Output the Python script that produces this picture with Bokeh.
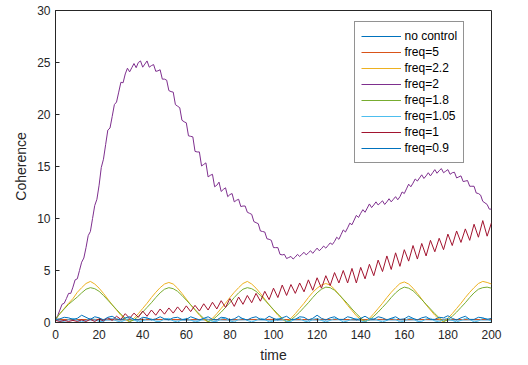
import numpy as np
from bokeh.plotting import figure
from bokeh.models import Range1d, FixedTicker
from bokeh.embed import file_html
from bokeh.resources import INLINE

# ---------------- data ----------------
T1 = list(range(0, 201, 1))
T2 = list(range(0, 201, 2))
T10 = list(range(0, 201, 10))

x_ticks = [0, 20, 40, 60, 80, 100, 120, 140, 160, 180, 200]
y_ticks = [0, 5, 10, 15, 20, 25, 30]

labels = ["no control", "freq=5", "freq=2.2", "freq=2", "freq=1.8",
          "freq=1.05", "freq=1", "freq=0.9"]
colors = ["#0072BD", "#D95319", "#EDB120", "#7E2F8E", "#77AC30",
          "#4DBEEE", "#A2142F", "#0072BD"]

# no control (every 10)
no_control = [0.25, 0.27, 0.24, 0.26, 0.25, 0.27, 0.24, 0.26, 0.25, 0.27, 0.24,
              0.26, 0.25, 0.27, 0.24, 0.26, 0.25, 0.27, 0.24, 0.26, 0.25]

# freq=5 (every 10)
freq_5 = [0.3, 0.28, 0.3, 0.27, 0.3, 0.29, 0.28, 0.3, 0.27, 0.29, 0.3,
          0.28, 0.3, 0.29, 0.27, 0.3, 0.28, 0.29, 0.3, 0.28, 0.3]

# freq=2.2 (every 2)
freq_2_2 = [0.3, 0.85, 1.35, 1.85, 2.3, 2.9, 3.35, 3.75, 3.95, 3.7,
            3.3, 2.8, 2.25, 1.7, 1.2, 0.7, 0.3, 0.05, 0.4, 0.85,
            1.35, 1.85, 2.4, 2.9, 3.35, 3.7, 3.85, 3.7, 3.3, 2.8,
            2.25, 1.7, 1.2, 0.7, 0.3, 0.05, 0.4, 0.85, 1.35, 1.85,
            2.4, 2.9, 3.35, 3.75, 3.95, 3.7, 3.3, 2.8, 2.25, 1.7,
            1.2, 0.7, 0.3, 0.05, 0.4, 0.85, 1.35, 1.85, 2.4, 2.9,
            3.3, 3.6, 3.75, 3.6, 3.2, 2.7, 2.2, 1.65, 1.15, 0.65,
            0.3, 0.05, 0.4, 0.85, 1.35, 1.85, 2.4, 2.9, 3.35, 3.75,
            3.9, 3.7, 3.3, 2.8, 2.25, 1.7, 1.2, 0.7, 0.3, 0.05,
            0.4, 0.85, 1.35, 1.85, 2.4, 2.9, 3.35, 3.75, 3.95, 3.85,
            3.7]

# freq=2 (every 1)
freq_2 = [0.3, 0.65, 1.2, 1.75, 1.85, 2.3, 2.8, 2.8, 3.4, 4.1,
          4.2, 5.0, 5.8, 6.2, 7.2, 8.35, 8.75, 10.0, 11.25, 11.85,
          13.2, 14.9, 15.7, 17.1, 18.5, 18.7, 19.8, 20.95, 21.2, 22.15,
          23.1, 23.05, 23.9, 24.45, 24.1, 24.5, 24.9, 24.5, 25.0, 25.15,
          24.55, 24.85, 25.15, 24.55, 24.7, 24.8, 24.15, 24.2, 24.3, 23.4,
          23.4, 23.3, 22.3, 22.2, 22.15, 20.95, 20.8, 20.65, 19.45, 19.3,
          19.2, 17.95, 17.9, 17.85, 16.45, 16.4, 16.4, 15.05, 15.2, 15.35,
          14.0, 14.15, 14.25, 13.05, 13.2, 13.5, 12.6, 12.8, 12.95, 12.1,
          12.3, 12.4, 11.6, 11.75, 11.85, 11.15, 11.2, 11.2, 10.6, 10.5,
          10.4, 9.7, 9.6, 9.5, 8.8, 8.75, 8.7, 8.05, 8.0, 7.9,
          7.2, 7.2, 7.2, 6.55, 6.5, 6.55, 6.15, 6.25, 6.35, 6.1,
          6.3, 6.55, 6.35, 6.55, 6.75, 6.5, 6.7, 6.9, 6.65, 6.9,
          7.15, 6.9, 7.1, 7.35, 7.15, 7.4, 7.65, 7.5, 7.8, 8.2,
          8.0, 8.45, 8.9, 8.7, 9.1, 9.55, 9.4, 9.85, 10.3, 10.1,
          10.5, 10.85, 10.6, 11.0, 11.4, 11.05, 11.3, 11.6, 11.3, 11.5,
          11.7, 11.35, 11.6, 11.9, 11.6, 11.85, 12.1, 11.8, 12.1, 12.55,
          12.4, 12.85, 13.3, 13.05, 13.4, 13.8, 13.6, 13.9, 14.2, 13.85,
          14.1, 14.4, 14.1, 14.4, 14.7, 14.35, 14.6, 14.8, 14.4, 14.55,
          14.7, 14.25, 14.4, 14.45, 13.9, 14.0, 14.1, 13.55, 13.6, 13.65,
          13.1, 13.1, 13.1, 12.45, 12.4, 12.25, 11.65, 11.5, 11.35, 10.9,
          10.9]

# freq=1.8 (every 2)
freq_1_8 = [0.3, 0.85, 1.3, 1.75, 2.1, 2.45, 2.85, 3.2, 3.35, 3.25,
            3.0, 2.6, 2.15, 1.7, 1.25, 0.8, 0.4, 0.08, 0.25, 0.6,
            1.0, 1.45, 1.9, 2.4, 2.85, 3.2, 3.35, 3.25, 3.0, 2.6,
            2.15, 1.7, 1.25, 0.8, 0.4, 0.08, 0.25, 0.6, 1.0, 1.45,
            1.9, 2.4, 2.85, 3.2, 3.35, 3.25, 3.0, 2.6, 2.15, 1.7,
            1.25, 0.8, 0.4, 0.08, 0.25, 0.6, 1.0, 1.45, 1.9, 2.4,
            2.85, 3.2, 3.4, 3.35, 3.1, 2.7, 2.25, 1.8, 1.3, 0.85,
            0.45, 0.1, 0.25, 0.6, 1.0, 1.45, 1.9, 2.4, 2.85, 3.2,
            3.4, 3.3, 3.05, 2.65, 2.2, 1.75, 1.3, 0.85, 0.45, 0.1,
            0.25, 0.6, 1.0, 1.45, 1.9, 2.4, 2.85, 3.2, 3.35, 3.4,
            3.3]

# freq=1.05 (every 2)
freq_1_05 = [0.3, 0.15, 0.1, 0.3, 0.4, 0.2, 0.05, 0.2, 0.4, 0.3,
             0.1, 0.1, 0.35, 0.4, 0.15, 0.05, 0.25, 0.4, 0.25, 0.05,
             0.15, 0.4, 0.35, 0.1, 0.1, 0.35, 0.4, 0.15, 0.05, 0.25,
             0.4, 0.25, 0.05, 0.15, 0.4, 0.3, 0.1, 0.1, 0.35, 0.4,
             0.15, 0.05, 0.3, 0.4, 0.2, 0.05, 0.2, 0.4, 0.3, 0.05,
             0.15, 0.4, 0.35, 0.1, 0.1, 0.35, 0.4, 0.15, 0.05, 0.3,
             0.4, 0.2, 0.05, 0.2, 0.4, 0.3, 0.05, 0.15, 0.35, 0.4,
             0.15, 0.05, 0.3, 0.4, 0.2, 0.05, 0.2, 0.4, 0.3, 0.05,
             0.15, 0.4, 0.35, 0.1, 0.1, 0.35, 0.4, 0.15, 0.05, 0.3,
             0.4, 0.2, 0.05, 0.2, 0.4, 0.3, 0.05, 0.15, 0.4, 0.35,
             0.1]

# freq=1 (every 2)
freq_1 = [0.2, 0.1, 0.2, 0.1, 0.2, 0.1, 0.25, 0.1, 0.3, 0.1,
          0.35, 0.15, 0.45, 0.2, 0.6, 0.3, 0.85, 0.4, 0.9, 0.5,
          1.1, 0.6, 1.2, 0.7, 1.3, 0.8, 1.4, 0.9, 1.5, 1.0,
          1.6, 1.05, 1.65, 1.1, 1.8, 1.2, 1.95, 1.3, 2.1, 1.45,
          2.3, 1.55, 2.45, 1.75, 2.6, 1.9, 2.8, 2.05, 3.0, 2.2,
          3.3, 2.4, 3.6, 2.6, 3.65, 2.8, 3.8, 2.95, 4.1, 3.1,
          4.3, 3.3, 4.5, 3.55, 4.8, 3.8, 5.0, 3.8, 5.2, 3.8,
          5.3, 4.2, 5.6, 4.5, 6.0, 4.9, 6.4, 5.1, 6.7, 5.4,
          7.0, 5.9, 7.4, 6.1, 7.6, 6.4, 7.9, 6.8, 8.1, 7.0,
          8.5, 7.4, 8.8, 7.7, 9.0, 7.9, 9.45, 8.2, 9.8, 8.3,
          9.6]

# freq=0.9 (every 2)
freq_0_9 = [0.3, 0.35, 0.5, 0.45, 0.3, 0.4, 0.7, 0.5, 0.3, 0.55,
            0.45, 0.25, 0.5, 0.6, 0.35, 0.25, 0.45, 0.55, 0.3, 0.25,
            0.5, 0.45, 0.25, 0.35, 0.55, 0.35, 0.25, 0.45, 0.5, 0.3,
            0.3, 0.55, 0.4, 0.25, 0.4, 0.55, 0.3, 0.25, 0.5, 0.45,
            0.25, 0.35, 0.6, 0.35, 0.25, 0.45, 0.55, 0.3, 0.3, 0.6,
            0.4, 0.25, 0.45, 0.6, 0.3, 0.3, 0.55, 0.5, 0.25, 0.4,
            0.7, 0.4, 0.25, 0.45, 0.55, 0.3, 0.3, 0.55, 0.45, 0.25,
            0.4, 0.6, 0.35, 0.3, 0.55, 0.45, 0.25, 0.4, 0.55, 0.3,
            0.35, 0.6, 0.4, 0.25, 0.45, 0.55, 0.3, 0.3, 0.5, 0.45,
            0.65, 0.4, 0.25, 0.45, 0.6, 0.3, 0.3, 0.5, 0.45, 0.3,
            0.4]

series = [
    (T10, no_control),
    (T10, freq_5),
    (T2, freq_2_2),
    (T1, freq_2),
    (T2, freq_1_8),
    (T2, freq_1_05),
    (T2, freq_1),
    (T2, freq_0_9),
]

# ---------------- figure ----------------
FONT = "Liberation Sans"
AX = "#262626"

p = figure(width=528, height=365, output_backend="svg", toolbar_location=None,
           x_range=Range1d(0, 200), y_range=Range1d(0, 30),
           min_border_left=55, min_border_right=37,
           min_border_top=10, min_border_bottom=41)
p.background_fill_color = "white"
p.border_fill_color = "white"
p.outline_line_color = AX
p.outline_line_width = 1
p.grid.visible = False

for (tt, vals), lab, col in zip(series, labels, colors):
    n = min(len(tt), len(vals))
    p.line(tt[:n], vals[:n], line_color=col, line_width=1, legend_label=lab)

def style_axis(ax):
    ax.axis_line_color = AX
    ax.major_tick_line_color = AX
    ax.major_tick_in = 4
    ax.major_tick_out = 0
    ax.minor_tick_line_color = None
    ax.major_label_text_font = FONT
    ax.major_label_text_color = AX
    ax.major_label_text_font_size = "12px"
    ax.axis_label_text_font = FONT
    ax.axis_label_text_color = AX
    ax.axis_label_text_font_style = "normal"
    ax.axis_label_text_font_size = "14px"

xa = p.xaxis[0]
ya = p.yaxis[0]
xa.ticker = FixedTicker(ticks=x_ticks)
ya.ticker = FixedTicker(ticks=y_ticks)
style_axis(xa)
style_axis(ya)
xa.axis_label = "time"
ya.axis_label = "Coherence"
xa.major_label_standoff = 7
xa.axis_label_standoff = 5
ya.major_label_standoff = 5
ya.axis_label_standoff = 5

lg = p.legend[0]
# half-pixel offset keeps the 1px legend lines and border crisp
lg.location = (298.5, 159.5)
lg.label_text_font = FONT
lg.label_text_font_size = "12px"
lg.label_text_color = "#000000"
lg.border_line_color = AX
lg.border_line_width = 1
lg.background_fill_color = "white"
lg.background_fill_alpha = 1
lg.padding = 6
lg.spacing = 0
lg.margin = 0
lg.label_height = 16
lg.glyph_height = 16
lg.glyph_width = 40
lg.label_standoff = 4

open("out.html", "w").write(file_html(p, INLINE))
